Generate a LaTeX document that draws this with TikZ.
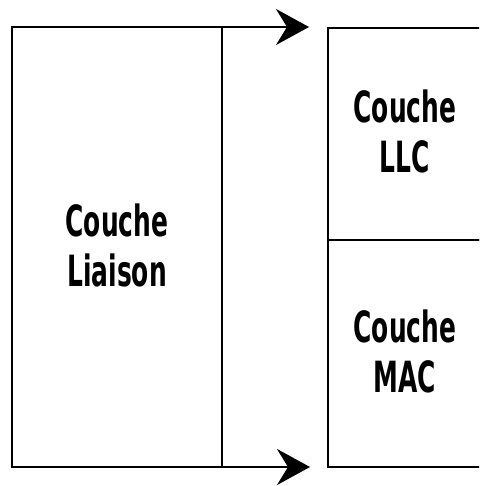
\documentclass[tikz,border=0pt]{standalone}
\usepackage{fontspec}
\usepackage{graphicx}
\setmainfont{DejaVu Sans}
\usetikzlibrary{arrows.meta}
\newcommand{\cond}[1]{\raisebox{-4pt}[\height][\depth]{\scalebox{0.58}[1]{\bfseries\begin{tabular}{@{}c@{}}#1\end{tabular}}}}
\begin{document}
\begin{tikzpicture}[x=1pt,y=-1pt,
  box/.style={draw=black, line width=2.3pt, inner sep=0pt, outer sep=0pt, anchor=north west,
    font=\fontsize{43}{50}\selectfont},
  flow/.style={draw=black, line width=2.3pt, -{Stealth[length=33pt,width=36pt,inset=11pt]}}
]
\useasboundingbox (0,0) rectangle (479,486);
\clip (0,0) rectangle (479,486);
\node[box, minimum width=210pt, minimum height=440pt] (liaison) at (12,27) {\cond{Couche\\Liaison}};
\node[box, minimum width=154pt, minimum height=212pt] (llc) at (328,28) {\cond{Couche\\LLC}};
\node[box, minimum width=154pt, minimum height=227pt] (mac) at (328,240) {\cond{Couche\\MAC}};
\coordinate (tiptop) at (309,27);
\coordinate (tipbot) at (310,467);
\draw[flow] (liaison.north east) -- (tiptop);
\draw[flow] (liaison.south east) -- (tipbot);
\end{tikzpicture}
\end{document}
